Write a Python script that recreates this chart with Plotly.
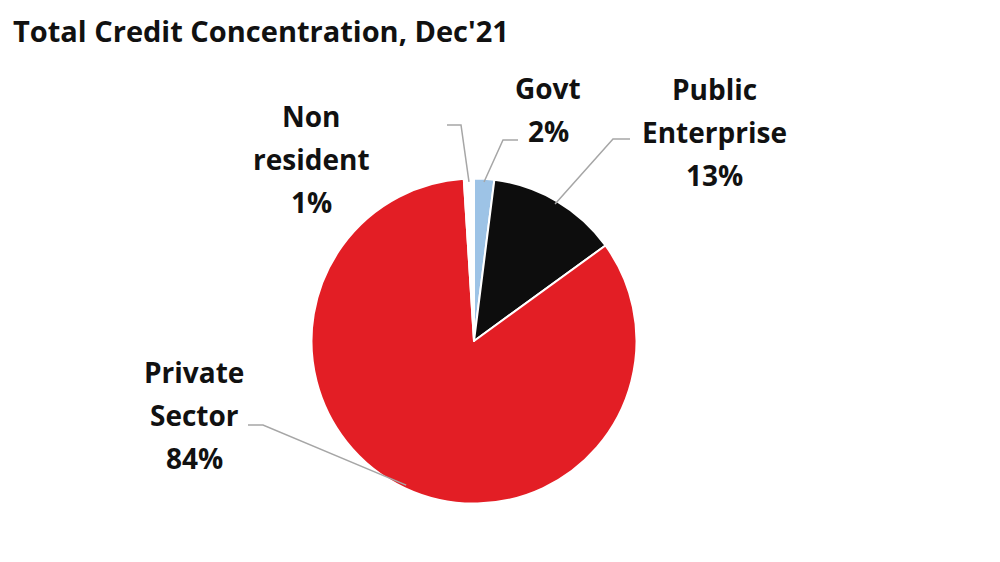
import math
import plotly.graph_objects as go

# ---- data ----
categories = ["Govt", "Public Enterprise", "Private Sector", "Non resident"]
values = [2, 13, 84, 1]
label_lines = [["Govt", "2%"], ["Public", "Enterprise", "13%"],
               ["Private", "Sector", "84%"], ["Non", "resident", "1%"]]
title_text = "Total Credit Concentration, Dec'21"

# ---- style / layout ----
W, H = 1000, 562
colors = ["#9DC3E6", "#0D0D0D", "#E31E25", "#FFFFFF"]
CX, CY, R = 474, 341, 162.5          # pie centre / radius in px
FONT = "Open Sans"
LBL_SIZE = 28
TITLE_SIZE = 29
LINE_GAP = 43
LEADER = "#A6A6A6"
# label anchor (centre of first line) and leader elbow, in px
label_pos = {
    "Govt": (548, 88, 518, 140, 503, 140),
    "Public Enterprise": (714, 89, 630, 139, 613, 139),
    "Private Sector": (194, 372, 248, 425, 263, 425),
    "Non resident": (311, 116, 447, 125, 461, 125),
}

def px(x):
    return x / W

def py(y):
    return 1 - y / H

fig = go.Figure(go.Pie(
    labels=categories, values=values, sort=False, direction="clockwise",
    rotation=0, textinfo="none", hoverinfo="label+percent",
    marker=dict(colors=colors, line=dict(color="#FFFFFF", width=2)),
    domain=dict(x=[px(CX - R), px(CX + R)], y=[py(CY + R), py(CY - R)]),
    showlegend=False,
))

annotations = [dict(text="<b>%s</b>" % title_text, x=px(11), y=py(31),
                    xref="paper", yref="paper", xanchor="left", yanchor="middle",
                    showarrow=False, font=dict(family=FONT, size=TITLE_SIZE, color="#111111"))]
shapes = []
total = sum(values)
cum = 0
for cat, v, lines in zip(categories, values, label_lines):
    mid = (cum + v / 2) / total * 2 * math.pi
    cum += v
    ex = CX + R * 0.98 * math.sin(mid)
    ey = CY - R * 0.98 * math.cos(mid)
    lx, ly, ax, ay, bx, by = label_pos[cat]
    for i, t in enumerate(lines):
        annotations.append(dict(text="<b>%s</b>" % t, x=px(lx), y=py(ly + i * LINE_GAP),
                                xref="paper", yref="paper", xanchor="center",
                                yanchor="middle", showarrow=False,
                                font=dict(family=FONT, size=LBL_SIZE, color="#111111")))
    shapes.append(dict(type="path", xref="paper", yref="paper",
                       path="M %f,%f L %f,%f L %f,%f" % (px(ax), py(ay), px(bx), py(by), px(ex), py(ey)),
                       line=dict(color=LEADER, width=1.5)))

fig.update_layout(width=W, height=H, margin=dict(l=0, r=0, t=0, b=0),
                  paper_bgcolor="#FFFFFF", plot_bgcolor="#FFFFFF",
                  annotations=annotations, shapes=shapes)
fig.write_html("out.html")
